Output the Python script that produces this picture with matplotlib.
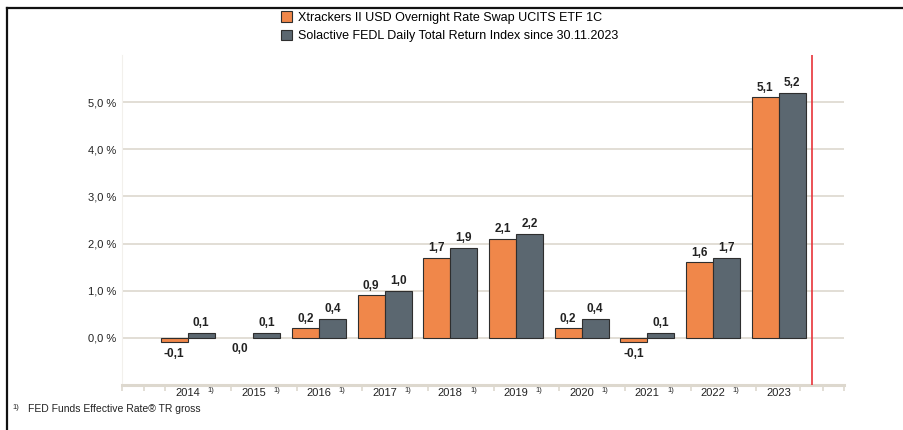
import matplotlib
matplotlib.use('Agg')
import matplotlib.pyplot as plt
import matplotlib.transforms as mtransforms
from matplotlib.lines import Line2D
from matplotlib.patches import Patch

plt.rcParams['font.family'] = ['Liberation Sans', 'DejaVu Sans']

# ── data ──────────────────────────────────────────────────
years = ['2014', '2015', '2016', '2017', '2018', '2019', '2020', '2021', '2022', '2023']
footnote_flag = [True, True, True, True, True, True, True, True, True, False]
etf = [-0.1, 0.0, 0.2, 0.9, 1.7, 2.1, 0.2, -0.1, 1.6, 5.1]
index = [0.1, 0.1, 0.4, 1.0, 1.9, 2.2, 0.4, 0.1, 1.7, 5.2]
y_ticks = [0, 1, 2, 3, 4, 5]

ORANGE = '#F0874A'
GREY = '#5B6770'
EDGE = '#2E2E2E'
AXIS = '#DDD8CE'

fig = plt.figure(figsize=(9.04, 4.30), dpi=100)
ax = fig.add_axes([0.135, 0.105, 0.799, 0.767])

w = 0.41
x = list(range(len(years)))
etf_lw = [0 if v == 0 else 0.8 for v in etf]
ax.bar([i - w / 2 for i in x], etf, w, color=ORANGE, edgecolor=EDGE, linewidth=etf_lw, zorder=3)
ax.bar([i + w / 2 for i in x], index, w, color=GREY, edgecolor=EDGE, linewidth=0.8, zorder=3)

def fmt(v):
    return f"{v:.1f}".replace('.', ',')

for i in x:
    for off, v in [(-w / 2, etf[i]), (w / 2, index[i])]:
        if v > 0:
            ax.text(i + off, v + 0.08, fmt(v), ha='center', va='bottom',
                    fontsize=8.5, color='#222222', fontweight='bold', zorder=4)
        else:
            ax.text(i + off, min(v, 0) - 0.12, fmt(v), ha='center', va='top',
                    fontsize=8.5, color='#222222', fontweight='bold', zorder=4)

# grid lines
for t in y_ticks:
    ax.axhline(t, color=AXIS, linewidth=1.2, zorder=1)

ax.set_xlim(-1, 10)
ax.set_ylim(-1, 6)
ax.set_yticks(y_ticks)
ax.set_yticklabels([f"{t},0 %" for t in y_ticks], fontsize=8, color='#222222')
ax.tick_params(axis='y', length=0, pad=4)

# red marker line
ax.axvline(9.5, color='#E8333A', linewidth=1.2, zorder=5)

for s in ['top', 'right']:
    ax.spines[s].set_visible(False)
ax.spines['left'].set_color('#F2F0EC')
ax.spines['left'].set_linewidth(0.8)
ax.spines['bottom'].set_color(AXIS)
ax.spines['bottom'].set_linewidth(2.2)

# x ticks: category boundaries plus fine ticks at the extended ends
bounds = [i + 0.66 for i in range(-1, 9)]
extra = [-1.0, -0.67, 9.33, 9.67, 10.0]
ax.set_xticks(bounds + extra)
ax.set_xticklabels([])
ax.tick_params(axis='x', length=4, width=1.2, color=AXIS, direction='out')

# year labels with footnote marks
trans = mtransforms.blended_transform_factory(ax.transData, ax.transAxes)
for i, yr in enumerate(years):
    ax.text(i, -0.011, yr, ha='center', va='top', fontsize=8, color='#222222',
            transform=trans)
    if footnote_flag[i]:
        ax.text(i + 0.3, -0.006, '1)', ha='left', va='top', fontsize=5.5,
                color='#222222', transform=trans)

# legend
handles = [Patch(facecolor=ORANGE, edgecolor=EDGE, linewidth=0.8),
           Patch(facecolor=GREY, edgecolor=EDGE, linewidth=0.8)]
labels = ['Xtrackers II USD Overnight Rate Swap UCITS ETF 1C',
          'Solactive FEDL Daily Total Return Index since 30.11.2023']
fig.legend(handles, labels, loc='upper left', bbox_to_anchor=(0.305, 0.985),
           frameon=False, fontsize=9, handlelength=0.9, handleheight=0.9,
           handletextpad=0.5, labelspacing=0.45, borderaxespad=0)

# footnote
fig.text(0.014, 0.052, '1)', fontsize=5.5, color='#222222', va='center')
fig.text(0.031, 0.050, 'FED Funds Effective Rate® TR gross', fontsize=7.5,
         color='#222222', va='center')

# frame lines (top and left)
fig.add_artist(Line2D([0.0075, 1.0], [0.981, 0.981], color='#111111', linewidth=1.6,
                      transform=fig.transFigure))
fig.add_artist(Line2D([0.0075, 0.0075], [0.0, 0.981], color='#111111', linewidth=1.6,
                      transform=fig.transFigure))

plt.savefig('out.png', dpi=100)
plt.close()
